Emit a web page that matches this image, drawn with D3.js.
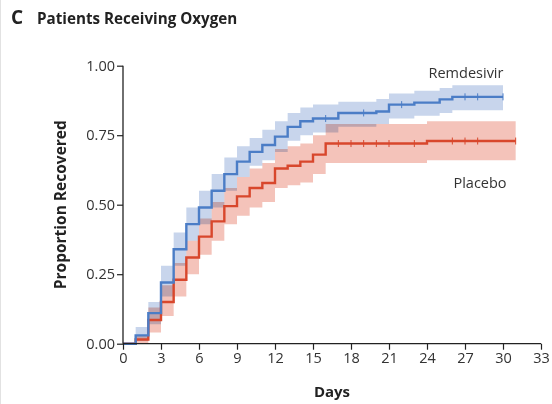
<!DOCTYPE html>
<html>
<head>
<meta charset="utf-8">
<script src="https://cdn.jsdelivr.net/npm/d3@7"></script>
<style>
  html, body { margin: 0; padding: 0; background: #fff; }
  svg { display: block; font-family: "Open Sans", "Noto Sans", sans-serif; }
</style>
</head>
<body>
<svg id="chart" width="552" height="404"></svg>
<script>
// Kaplan-Meier recovery estimates, patients receiving oxygen
const xTicks = [0, 3, 6, 9, 12, 15, 18, 21, 24, 27, 30, 33];
const yTicks = [0, 0.25, 0.5, 0.75, 1.0];

const remDays  = [0, 1, 2, 3, 4, 5, 6, 7, 8, 9, 10, 11, 12, 13, 14, 15, 17, 20, 21, 23, 25, 26];
const remEst   = [0, 0.03, 0.11, 0.22, 0.34, 0.43, 0.49, 0.55, 0.61, 0.655, 0.69, 0.715, 0.745, 0.78, 0.80, 0.81, 0.83, 0.835, 0.86, 0.867, 0.879, 0.888];
const remLow   = [0, 0.01, 0.07, 0.17, 0.28, 0.37, 0.43, 0.49, 0.55, 0.60, 0.64, 0.66, 0.69, 0.73, 0.75, 0.76, 0.78, 0.79, 0.81, 0.82, 0.83, 0.84];
const remHigh  = [0, 0.06, 0.15, 0.28, 0.40, 0.49, 0.55, 0.61, 0.67, 0.71, 0.74, 0.77, 0.80, 0.83, 0.85, 0.86, 0.87, 0.88, 0.90, 0.91, 0.92, 0.93];
const remEnd   = 30;
const remCensor = [16, 19, 22, 27, 28, 30];

const plaDays  = [0, 1, 2, 3, 4, 5, 6, 7, 8, 9, 10, 11, 12, 13, 14, 15, 16, 24];
const plaEst   = [0, 0.015, 0.085, 0.15, 0.23, 0.31, 0.385, 0.44, 0.495, 0.53, 0.56, 0.578, 0.63, 0.64, 0.655, 0.68, 0.72, 0.729];
const plaLow   = [0, 0.00, 0.04, 0.10, 0.17, 0.25, 0.32, 0.37, 0.43, 0.46, 0.49, 0.51, 0.56, 0.57, 0.58, 0.61, 0.65, 0.66];
const plaHigh  = [0, 0.03, 0.13, 0.21, 0.29, 0.37, 0.45, 0.51, 0.56, 0.60, 0.63, 0.65, 0.70, 0.71, 0.72, 0.75, 0.79, 0.80];
const plaEnd   = 31;
const plaCensor = [17, 18, 19, 20, 21, 23, 26, 27, 28, 31];

const svg = d3.select("#chart");
const plotLeft = 123, plotRight = 541, plotTop = 65.7, plotBottom = 343.7;

const x = d3.scaleLinear().domain([0, 33]).range([plotLeft, plotRight]);
const y = d3.scaleLinear().domain([0, 1]).range([plotBottom, plotTop]);

// faint frame edge
svg.append("line").attr("x1", 0.5).attr("x2", 0.5).attr("y1", 0).attr("y2", 404)
  .attr("stroke", "#e2e2e2");

// title
svg.append("text").attr("x", 11).attr("y", 23.5)
  .attr("font-size", 19).attr("font-weight", 700).attr("fill", "#222").text("C");
svg.append("text").attr("x", 37).attr("y", 23.5)
  .attr("font-size", 15.2).attr("font-weight", 700).attr("fill", "#222").text("Patients Receiving Oxygen");

function series(days, est, lo, hi, end) {
  const pts = days.map((d, i) => ({ d, v: est[i], lo: lo[i], hi: hi[i] }));
  const last = pts[pts.length - 1];
  pts.push({ d: end, v: last.v, lo: last.lo, hi: last.hi });
  return pts;
}
const rem = series(remDays, remEst, remLow, remHigh, remEnd);
const pla = series(plaDays, plaEst, plaLow, plaHigh, plaEnd);

const area = d3.area().curve(d3.curveStepAfter)
  .x(p => x(p.d)).y0(p => y(p.lo)).y1(p => y(p.hi));
const line = d3.line().curve(d3.curveStepAfter)
  .x(p => x(p.d)).y(p => y(p.v));

const bands = svg.append("g").style("isolation", "isolate");
bands.append("path").datum(pla).attr("d", area)
  .attr("fill", "#f4c3ba").style("mix-blend-mode", "multiply");
bands.append("path").datum(rem).attr("d", area)
  .attr("fill", "#c8d5ec").style("mix-blend-mode", "multiply");

const blue = "#4b7dc6", red = "#d8472c";
svg.append("path").datum(pla).attr("d", line)
  .attr("fill", "none").attr("stroke", red).attr("stroke-width", 2.4);
svg.append("path").datum(rem).attr("d", line)
  .attr("fill", "none").attr("stroke", blue).attr("stroke-width", 2.4);

// censor marks
function stepValue(days, est, d) {
  let v = est[0];
  days.forEach((t, i) => { if (t <= d) v = est[i]; });
  return v;
}
svg.append("g").selectAll("line").data(remCensor).join("line")
  .attr("x1", d => x(d)).attr("x2", d => x(d))
  .attr("y1", d => y(stepValue(remDays, remEst, d)) - 3.5)
  .attr("y2", d => y(stepValue(remDays, remEst, d)) + 3.5)
  .attr("stroke", blue).attr("stroke-width", 1);
svg.append("g").selectAll("line").data(plaCensor).join("line")
  .attr("x1", d => x(d)).attr("x2", d => x(d))
  .attr("y1", d => y(stepValue(plaDays, plaEst, d)) - 3.5)
  .attr("y2", d => y(stepValue(plaDays, plaEst, d)) + 3.5)
  .attr("stroke", red).attr("stroke-width", 1);

// axes
const xAxis = svg.append("g").attr("transform", `translate(0,${plotBottom})`)
  .call(d3.axisBottom(x).tickValues(xTicks).tickSize(6).tickPadding(3).tickFormat(d3.format("d")));
const yAxis = svg.append("g").attr("transform", `translate(${plotLeft},0)`)
  .call(d3.axisLeft(y).tickValues(yTicks).tickSize(6).tickPadding(2).tickFormat(d3.format(".2f")));
[xAxis, yAxis].forEach(g => {
  g.select(".domain").attr("stroke", "#222").attr("stroke-width", 1.3);
  g.selectAll(".tick line").attr("stroke", "#222").attr("stroke-width", 1.2);
  g.selectAll(".tick text").attr("fill", "#333").attr("font-size", 14.5)
    .attr("font-family", "'Open Sans', sans-serif");
});
xAxis.select(".domain").attr("d", `M${plotLeft},0H${plotRight}`);
yAxis.select(".domain").attr("d", `M0,${plotTop}V${plotBottom}`);

// axis titles
svg.append("text").attr("x", x(16.5)).attr("y", 397)
  .attr("text-anchor", "middle").attr("font-size", 15).attr("font-weight", 700)
  .attr("fill", "#222").text("Days");
svg.append("text")
  .attr("transform", `translate(66,${(plotTop + plotBottom) / 2}) rotate(-90)`)
  .attr("text-anchor", "middle").attr("font-size", 15.5).attr("font-weight", 700)
  .attr("fill", "#222").text("Proportion Recovered");

// series labels
svg.append("text").attr("x", 466).attr("y", 78).attr("text-anchor", "middle")
  .attr("font-size", 14.5).attr("fill", "#333").text("Remdesivir");
svg.append("text").attr("x", 480).attr("y", 188).attr("text-anchor", "middle")
  .attr("font-size", 14.5).attr("fill", "#333").text("Placebo");
</script>
</body>
</html>
